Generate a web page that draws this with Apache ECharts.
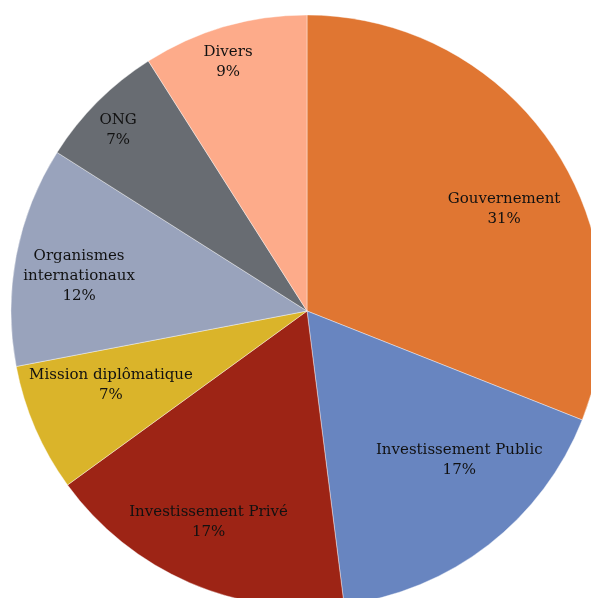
<!DOCTYPE html>
<html>
<head>
<meta charset="utf-8">
<script src="https://cdn.jsdelivr.net/npm/echarts@6/dist/echarts.min.js"></script>
<style>
  html, body { margin: 0; padding: 0; background: #ffffff; }
  #chart { width: 591px; height: 598px; }
</style>
</head>
<body>
<div id="chart"></div>
<script>
// Funding sources, share in percent
const categories = [
  'Gouvernement',
  'Investissement Public',
  'Investissement Privé',
  'Mission diplômatique',
  'Organismes internationaux',
  'ONG',
  'Divers'
];
const shares = [31, 17, 17, 7, 12, 7, 9];

// Slice colours
const sliceColors = ['#E07632', '#6885C0', '#9D2415', '#DAB42A', '#99A3BC', '#686C72', '#FDAB8A'];

// Label placement: distance from centre as a fraction of the radius, and angular nudge (degrees, clockwise)
const labelRadius = [0.75, 0.72, 0.787, 0.708, 0.779, 0.884, 0.882];
const labelAngleShift = [6.8, -7.8, 1.6, 2.7, -2.1, -1.2, -1.4];

const CX = 307, CY = 311, R = 296;

const chart = echarts.init(document.getElementById('chart'), null, { renderer: 'canvas' });

const total = shares.reduce((a, b) => a + b, 0);
const midAngles = [];
let acc = 0;
shares.forEach(v => { midAngles.push((acc + v / 2) / total * 360); acc += v; });

chart.setOption({
  animation: false,
  backgroundColor: '#ffffff',
  series: [{
    type: 'pie',
    center: [CX, CY],
    radius: [0, R],
    startAngle: 90,
    clockwise: true,
    avoidLabelOverlap: false,
    itemStyle: { borderColor: '#ffffff', borderWidth: 0.4 },
    label: {
      show: true,
      position: 'inside',
      color: '#111111',
      fontFamily: 'DejaVu Serif',
      fontSize: 15,
      lineHeight: 20,
      align: 'center',
      formatter: p => {
        let name = p.name;
        if (name.length > 22) {
          const i = name.lastIndexOf(' ');
          name = name.slice(0, i) + '\n' + name.slice(i + 1);
        }
        return name + '\n' + p.value + '%';
      }
    },
    labelLine: { show: false },
    labelLayout: params => {
      const i = params.dataIndex;
      const a = (midAngles[i] + labelAngleShift[i]) * Math.PI / 180;
      const r = labelRadius[i] * R;
      return {
        x: CX + r * Math.sin(a),
        y: CY - r * Math.cos(a),
        align: 'center',
        verticalAlign: 'middle'
      };
    },
    data: categories.map((name, i) => ({
      name: name,
      value: shares[i],
      itemStyle: { color: sliceColors[i] }
    }))
  }]
});
</script>
</body>
</html>
